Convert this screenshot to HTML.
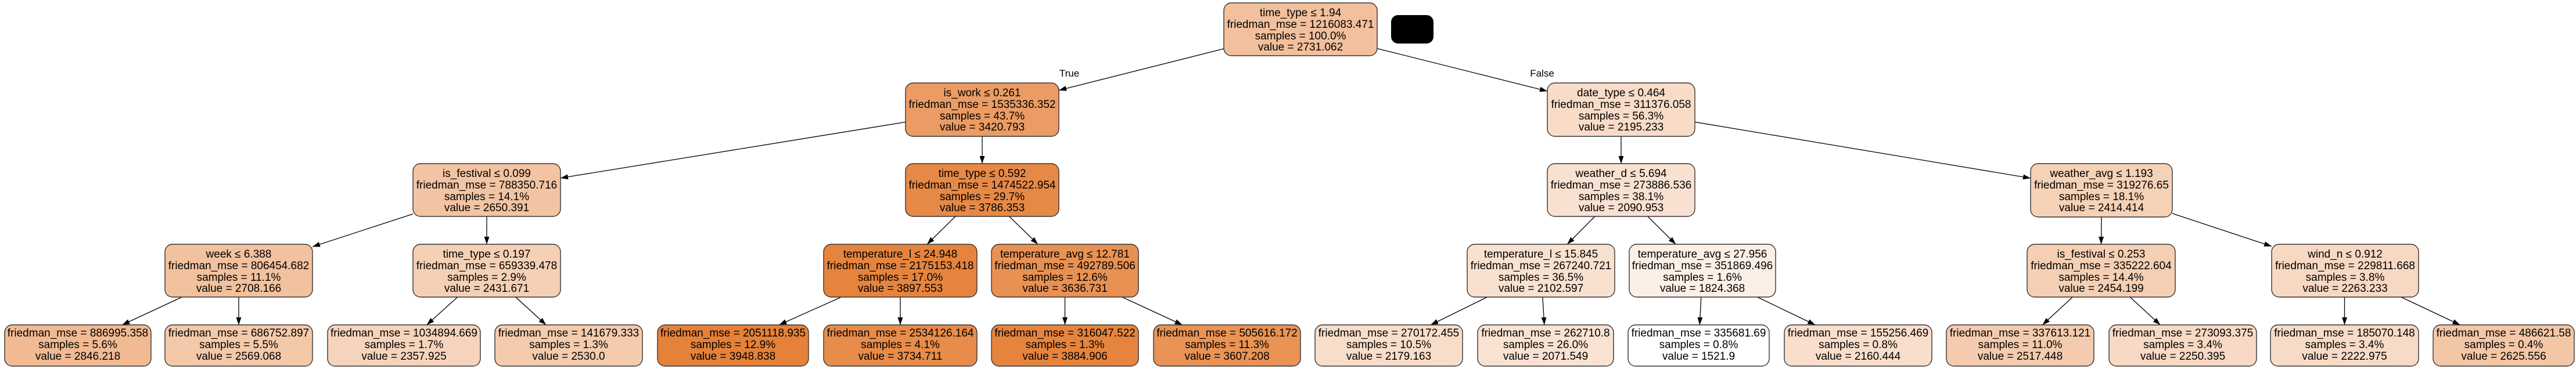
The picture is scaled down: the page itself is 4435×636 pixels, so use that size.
<!DOCTYPE html>
<html><head><meta charset="utf-8"><style>
html,body{margin:0;padding:0;background:#fff;}
svg{display:block;}
text{font-family:"Liberation Sans",Arial,sans-serif;font-size:19px;fill:#000;text-anchor:middle;}
rect.n{stroke:#333;stroke-width:1.4;}
line{stroke:#000;stroke-width:1.3;marker-end:url(#ah);}
</style></head><body>
<svg width="4435" height="636" viewBox="0 0 4435 636" xmlns="http://www.w3.org/2000/svg">
<defs><marker id="ah" markerUnits="userSpaceOnUse" markerWidth="14" markerHeight="10" refX="13" refY="4.5" orient="auto"><path d="M0,0 L13,4.5 L0,9 z" fill="#000"/></marker></defs>

<!-- edges -->
<line x1="2107" y1="84" x2="1823" y2="155.6"/>
<line x1="2371" y1="83.6" x2="2664" y2="157.1"/>
<line x1="1559" y1="210.4" x2="965" y2="306.9"/>
<line x1="1691" y1="235" x2="1691" y2="282"/>
<line x1="2791" y1="235" x2="2791" y2="282"/>
<line x1="2918" y1="210.3" x2="3496" y2="307.1"/>
<line x1="711" y1="368.8" x2="538" y2="425.2"/>
<line x1="838" y1="373" x2="838" y2="421"/>
<line x1="1644.9" y1="373" x2="1596.1" y2="421"/>
<line x1="1737.6" y1="373" x2="1786.9" y2="421"/>
<line x1="2745.8" y1="373" x2="2698.2" y2="421"/>
<line x1="2836.8" y1="373" x2="2885.2" y2="421"/>
<line x1="3618" y1="374" x2="3617.5" y2="421"/>
<line x1="3740" y1="367.9" x2="3911" y2="424.6"/>
<line x1="313.3" y1="512" x2="210.2" y2="560"/>
<line x1="411" y1="512" x2="411" y2="560"/>
<line x1="787.7" y1="512" x2="734.7" y2="560"/>
<line x1="887.7" y1="512" x2="940.2" y2="560"/>
<line x1="1448.4" y1="512" x2="1341.3" y2="560"/>
<line x1="1550" y1="512" x2="1550" y2="560"/>
<line x1="1833.5" y1="512" x2="1833.5" y2="560"/>
<line x1="1931.9" y1="512" x2="2035.7" y2="560"/>
<line x1="2560.6" y1="512" x2="2463.1" y2="560"/>
<line x1="2655.8" y1="512" x2="2658.8" y2="560"/>
<line x1="2928.7" y1="512" x2="2926.3" y2="560"/>
<line x1="3025.5" y1="512" x2="3125.2" y2="560"/>
<line x1="3568.3" y1="512" x2="3516.4" y2="560"/>
<line x1="3667.1" y1="512" x2="3719.3" y2="560"/>
<line x1="4036.5" y1="512" x2="4036.5" y2="560"/>
<line x1="4133.8" y1="512" x2="4235.4" y2="560"/>

<text x="1841" y="132" style="font-size:17px">True</text>
<text x="2655" y="132" style="font-size:17px">False</text>

<rect x="2395" y="26" width="73" height="49" rx="12" fill="#000"/>

<!-- level 0 -->
<rect class="n" x="2107" y="5" width="264" height="91" rx="13" fill="#f2c09c"/>
<text x="2239" y="28">time_type ≤ 1.94</text><text x="2239" y="48">friedman_mse = 1216083.471</text><text x="2239" y="68">samples = 100.0%</text><text x="2239" y="87">value = 2731.062</text>

<!-- level 1 -->
<rect class="n" x="1559" y="143" width="264" height="92" rx="13" fill="#eb9c64"/>
<text x="1691" y="166">is_work ≤ 0.261</text><text x="1691" y="186">friedman_mse = 1535336.352</text><text x="1691" y="206">samples = 43.7%</text><text x="1691" y="225">value = 3420.793</text>
<rect class="n" x="2664" y="143" width="254" height="92" rx="13" fill="#f8dcc8"/>
<text x="2791" y="166">date_type ≤ 0.464</text><text x="2791" y="186">friedman_mse = 311376.058</text><text x="2791" y="206">samples = 56.3%</text><text x="2791" y="225">value = 2195.233</text>

<!-- level 2 -->
<rect class="n" x="711" y="282" width="254" height="91" rx="13" fill="#f3c4a3"/>
<text x="838" y="305">is_festival ≤ 0.099</text><text x="838" y="325">friedman_mse = 788350.716</text><text x="838" y="345">samples = 14.1%</text><text x="838" y="364">value = 2650.391</text>
<rect class="n" x="1559" y="282" width="264" height="91" rx="13" fill="#e78946"/>
<text x="1691" y="305">time_type ≤ 0.592</text><text x="1691" y="325">friedman_mse = 1474522.954</text><text x="1691" y="345">samples = 29.7%</text><text x="1691" y="364">value = 3786.353</text>
<rect class="n" x="2664" y="282" width="254" height="91" rx="13" fill="#f9e1d1"/>
<text x="2791" y="305">weather_d ≤ 5.694</text><text x="2791" y="325">friedman_mse = 273886.536</text><text x="2791" y="345">samples = 38.1%</text><text x="2791" y="364">value = 2090.953</text>
<rect class="n" x="3496" y="282" width="244" height="92" rx="13" fill="#f5d1b6"/>
<text x="3618" y="305">weather_avg ≤ 1.193</text><text x="3618" y="325">friedman_mse = 319276.65</text><text x="3618" y="345">samples = 18.1%</text><text x="3618" y="364">value = 2414.414</text>

<!-- level 3 -->
<rect class="n" x="284" y="421" width="254" height="91" rx="13" fill="#f2c19e"/>
<text x="411" y="444">week ≤ 6.388</text><text x="411" y="464">friedman_mse = 806454.682</text><text x="411" y="484">samples = 11.1%</text><text x="411" y="503">value = 2708.166</text>
<rect class="n" x="711" y="421" width="254" height="91" rx="13" fill="#f5d0b5"/>
<text x="838" y="444">time_type ≤ 0.197</text><text x="838" y="464">friedman_mse = 659339.478</text><text x="838" y="484">samples = 2.9%</text><text x="838" y="503">value = 2431.671</text>
<rect class="n" x="1418" y="421" width="264" height="91" rx="13" fill="#e6843d"/>
<text x="1550" y="444">temperature_l ≤ 24.948</text><text x="1550" y="464">friedman_mse = 2175153.418</text><text x="1550" y="484">samples = 17.0%</text><text x="1550" y="503">value = 3897.553</text>
<rect class="n" x="1707" y="421" width="253" height="91" rx="13" fill="#e89152"/>
<text x="1833.5" y="444">temperature_avg ≤ 12.781</text><text x="1833.5" y="464">friedman_mse = 492789.506</text><text x="1833.5" y="484">samples = 12.6%</text><text x="1833.5" y="503">value = 3636.731</text>
<rect class="n" x="2526" y="421" width="254" height="91" rx="13" fill="#f9e1d0"/>
<text x="2653" y="444">temperature_l ≤ 15.845</text><text x="2653" y="464">friedman_mse = 267240.721</text><text x="2653" y="484">samples = 36.5%</text><text x="2653" y="503">value = 2102.597</text>
<rect class="n" x="2805" y="421" width="252" height="91" rx="13" fill="#fcefe6"/>
<text x="2931" y="444">temperature_avg ≤ 27.956</text><text x="2931" y="464">friedman_mse = 351869.496</text><text x="2931" y="484">samples = 1.6%</text><text x="2931" y="503">value = 1824.368</text>
<rect class="n" x="3490" y="421" width="255" height="91" rx="13" fill="#f5cfb3"/>
<text x="3617.5" y="444">is_festival ≤ 0.253</text><text x="3617.5" y="464">friedman_mse = 335222.604</text><text x="3617.5" y="484">samples = 14.4%</text><text x="3617.5" y="503">value = 2454.199</text>
<rect class="n" x="3911" y="421" width="253" height="91" rx="13" fill="#f7d8c2"/>
<text x="4037.5" y="444">wind_n ≤ 0.912</text><text x="4037.5" y="464">friedman_mse = 229811.668</text><text x="4037.5" y="484">samples = 3.8%</text><text x="4037.5" y="503">value = 2263.233</text>

<!-- leaves -->
<rect class="n" x="8" y="560" width="252" height="71" rx="13" fill="#f1ba93"/>
<text x="134" y="580">friedman_mse = 886995.358</text><text x="134" y="600">samples = 5.6%</text><text x="134" y="620">value = 2846.218</text>
<rect class="n" x="284" y="560" width="254" height="71" rx="13" fill="#f4c9aa"/>
<text x="411" y="580">friedman_mse = 686752.897</text><text x="411" y="600">samples = 5.5%</text><text x="411" y="620">value = 2569.068</text>
<rect class="n" x="564" y="560" width="263" height="71" rx="13" fill="#f6d4bb"/>
<text x="695.5" y="580">friedman_mse = 1034894.669</text><text x="695.5" y="600">samples = 1.7%</text><text x="695.5" y="620">value = 2357.925</text>
<rect class="n" x="852" y="560" width="254" height="71" rx="13" fill="#f4cbad"/>
<text x="979" y="580">friedman_mse = 141679.333</text><text x="979" y="600">samples = 1.3%</text><text x="979" y="620">value = 2530.0</text>
<rect class="n" x="1132" y="560" width="260" height="71" rx="13" fill="#e58139"/>
<text x="1262" y="580">friedman_mse = 2051118.935</text><text x="1262" y="600">samples = 12.9%</text><text x="1262" y="620">value = 3948.838</text>
<rect class="n" x="1418" y="560" width="264" height="71" rx="13" fill="#e78c4a"/>
<text x="1550" y="580">friedman_mse = 2534126.164</text><text x="1550" y="600">samples = 4.1%</text><text x="1550" y="620">value = 3734.711</text>
<rect class="n" x="1707" y="560" width="253" height="71" rx="13" fill="#e6843e"/>
<text x="1833.5" y="580">friedman_mse = 316047.522</text><text x="1833.5" y="600">samples = 1.3%</text><text x="1833.5" y="620">value = 3884.906</text>
<rect class="n" x="1986" y="560" width="253" height="71" rx="13" fill="#e99355"/>
<text x="2112.5" y="580">friedman_mse = 505616.172</text><text x="2112.5" y="600">samples = 11.3%</text><text x="2112.5" y="620">value = 3607.208</text>
<rect class="n" x="2264" y="560" width="254" height="71" rx="13" fill="#f8ddc9"/>
<text x="2391" y="580">friedman_mse = 270172.455</text><text x="2391" y="600">samples = 10.5%</text><text x="2391" y="620">value = 2179.163</text>
<rect class="n" x="2544" y="560" width="234" height="71" rx="13" fill="#f9e2d2"/>
<text x="2661" y="580">friedman_mse = 262710.8</text><text x="2661" y="600">samples = 26.0%</text><text x="2661" y="620">value = 2071.549</text>
<rect class="n" x="2803" y="560" width="243" height="71" rx="13" fill="#ffffff"/>
<text x="2924.5" y="580">friedman_mse = 335681.69</text><text x="2924.5" y="600">samples = 0.8%</text><text x="2924.5" y="620">value = 1521.9</text>
<rect class="n" x="3072" y="560" width="254" height="71" rx="13" fill="#f8decb"/>
<text x="3199" y="580">friedman_mse = 155256.469</text><text x="3199" y="600">samples = 0.8%</text><text x="3199" y="620">value = 2160.444</text>
<rect class="n" x="3351" y="560" width="254" height="71" rx="13" fill="#f4cbae"/>
<text x="3478" y="580">friedman_mse = 337613.121</text><text x="3478" y="600">samples = 11.0%</text><text x="3478" y="620">value = 2517.448</text>
<rect class="n" x="3631" y="560" width="254" height="71" rx="13" fill="#f7d9c4"/>
<text x="3758" y="580">friedman_mse = 273093.375</text><text x="3758" y="600">samples = 3.4%</text><text x="3758" y="620">value = 2250.395</text>
<rect class="n" x="3909" y="560" width="255" height="71" rx="13" fill="#f7dbc6"/>
<text x="4036.5" y="580">friedman_mse = 185070.148</text><text x="4036.5" y="600">samples = 3.4%</text><text x="4036.5" y="620">value = 2222.975</text>
<rect class="n" x="4189" y="560" width="243" height="71" rx="13" fill="#f3c6a5"/>
<text x="4310.5" y="580">friedman_mse = 486621.58</text><text x="4310.5" y="600">samples = 0.4%</text><text x="4310.5" y="620">value = 2625.556</text>
</svg>
</body></html>
